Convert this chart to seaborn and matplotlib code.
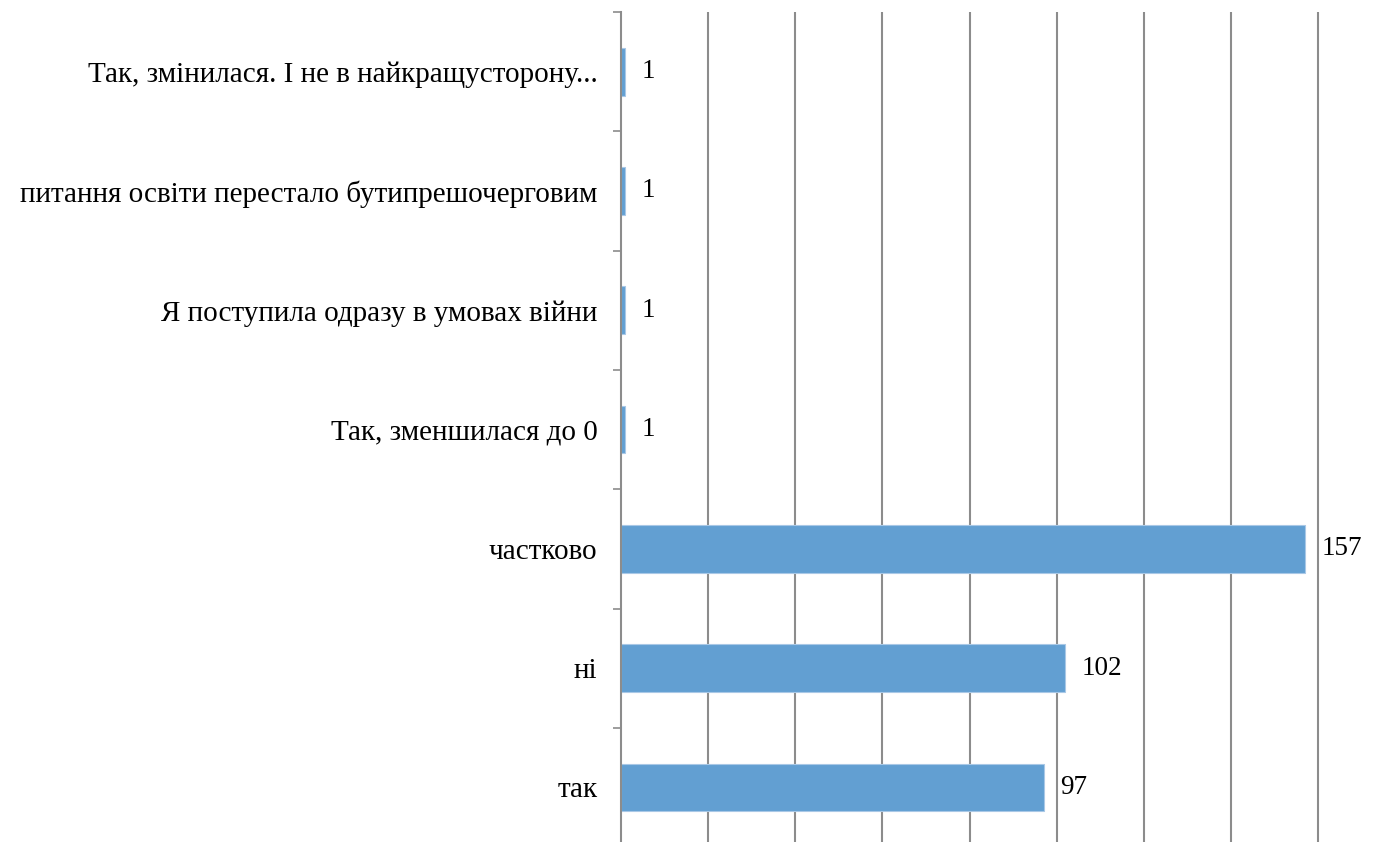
import matplotlib
matplotlib.use("Agg")
import matplotlib.pyplot as plt
import numpy as np
import pandas as pd
import seaborn as sns

# ── data (top to bottom, as drawn) ─────────────────────────────
categories = [
    "Так, змінилася. І не в найкращусторону...",
    "питання освіти перестало бутипрешочерговим",
    "Я поступила одразу в умовах війни",
    "Так, зменшилася до 0",
    "частково",
    "ні",
    "так",
]
counts = [1, 1, 1, 1, 157, 102, 97]

BAR_COLOR = "#629fd2"
GRID_COLOR = "#8c8c8c"

sns.set_style("white")
plt.rcParams["font.family"] = ["Liberation Serif", "DejaVu Serif"]
plt.rcParams["text.color"] = "black"

df = pd.DataFrame({"answer": categories, "count": counts})

W, H = 1396, 842
x0, px_per_unit = 621, 684 / 157
xmax = 161
top, row_h = 12, 119.3
fig = plt.figure(figsize=(W / 100, H / 100), dpi=100)
ax = fig.add_axes([
    x0 / W,
    1 - (top + row_h * len(categories)) / H,
    xmax * px_per_unit / W,
    row_h * len(categories) / H,
])

sns.barplot(
    data=df,
    x="count",
    y="answer",
    order=categories,
    orient="h",
    color=BAR_COLOR,
    saturation=1,
    width=0.4,
    edgecolor="#a9c8e6",
    linewidth=0.8,
    ax=ax,
)

ax.bar_label(ax.containers[0], padding=12, fontsize=19.5, color="black")

ax.set_xlim(0, xmax)
ax.set_ylim(len(categories) - 0.5, -0.5)
ax.set_xticks(np.arange(20, 161, 20))
ax.set_xticklabels([])
ax.tick_params(axis="x", length=0)
ax.xaxis.grid(True, color=GRID_COLOR, linewidth=1.5)
ax.set_axisbelow(True)

# category labels on major ticks, small tick marks at the row boundaries
ax.set_yticks(range(len(categories)))
ax.set_yticklabels(categories, fontsize=21)
ax.set_yticks(np.arange(-0.5, len(categories), 1), minor=True)
ax.tick_params(axis="y", which="major", left=True, length=0, pad=17, labelcolor="black")
ax.tick_params(axis="y", which="minor", left=True, length=6, width=1.2,
               color=GRID_COLOR, direction="out")

ax.set_xlabel("")
ax.set_ylabel("")
for side in ("top", "right", "bottom"):
    ax.spines[side].set_visible(False)
ax.spines["left"].set_color(GRID_COLOR)
ax.spines["left"].set_linewidth(1.5)

fig.savefig("out.png", dpi=100)
